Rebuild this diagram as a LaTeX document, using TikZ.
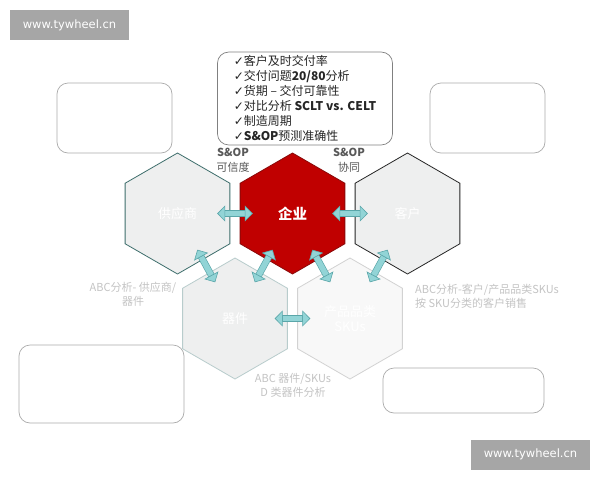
\documentclass[tikz,border=0pt]{standalone}
\usepackage{fontspec}
\setmainfont{Noto Sans CJK SC}
\newfontfamily\symfont{DejaVu Sans}
\usetikzlibrary{shapes.geometric,arrows.meta,calc}
\definecolor{qiyered}{HTML}{C00000}
\definecolor{qiyeline}{HTML}{8A0A0A}
\definecolor{hexgray}{HTML}{EEEFEF}
\definecolor{hexlight}{HTML}{F8F8F8}
\definecolor{tealline}{HTML}{3E6E6C}
\definecolor{softline}{HTML}{B8CCCC}
\definecolor{paleline}{HTML}{D2D2D2}
\definecolor{arrfill}{HTML}{92D4D6}
\definecolor{arredge}{HTML}{5AA6A9}
\definecolor{boxline}{HTML}{ABABAB}
\definecolor{notegray}{HTML}{C4C4C4}
\definecolor{wmgray}{HTML}{A6A6A6}
\begin{document}
\begin{tikzpicture}[x=1pt,y=-1pt,
  hexa/.style={regular polygon, regular polygon sides=6, shape border rotate=30,
    minimum size=121pt, inner sep=0pt, line width=0.8pt, text=white,
    font=\fontsize{13}{15}\selectfont, align=center},
  infobox/.style={draw=boxline, fill=white, rounded corners=11pt, line width=0.7pt},
  biarrow/.style={draw=arrfill, line width=5.5pt,
    {Triangle[length=8pt,width=16pt,line width=0.6pt,fill=arrfill,color=arredge]}-{Triangle[length=8pt,width=16pt,line width=0.6pt,fill=arrfill,color=arredge]},
    preaction={draw=arredge, line width=6.8pt, -, shorten <=7pt, shorten >=7pt}},
  note/.style={font=\fontsize{11}{14}\selectfont, text=notegray, inner sep=0pt},
  soplabel/.style={font=\fontsize{11}{15}\selectfont, text=black!65, align=center, inner sep=0pt},
  wmbox/.style={fill=wmgray, text=white, font=\symfont\fontsize{11.5}{13}\selectfont,
    minimum width=119pt, minimum height=30pt, inner sep=0pt}]
\useasboundingbox[fill=white] (0,0) rectangle (600,480);
% side boxes
\node[infobox, minimum width=115pt, minimum height=70pt] (tlbox) at (114.5,118) {};
\node[infobox, minimum width=115pt, minimum height=70pt] (trbox) at (487.5,118) {};
\node[infobox, minimum width=165pt, minimum height=78pt] (blbox) at (101.5,384) {};
\node[infobox, minimum width=161pt, minimum height=45pt] (brbox) at (463.5,390.5) {};
\node[infobox, draw=black!50, minimum width=175pt, minimum height=91pt, align=left,
  font=\fontsize{12}{15}\selectfont, text=black!85] (kpibox) at (305,98.5)
  {{\symfont ✓}客户及时交付率\\
   {\symfont ✓}交付问题\textbf{20/80}分析\\
   {\symfont ✓}货期 – 交付可靠性\\
   {\symfont ✓}对比分析 \textbf{SCLT vs. CELT}\\
   {\symfont ✓}制造周期\\
   {\symfont ✓}\textbf{S\&OP}预测准确性};
% hexagons
\node[hexa, draw=tealline, fill=hexgray] (gys) at (177.5,213.5) {供应商};
\node[hexa, draw=qiyeline, fill=qiyered, font=\fontsize{14.5}{16}\selectfont\bfseries] (qiye) at (292.5,213.5) {企业};
\node[hexa, draw=black!85, fill=hexgray] (kehu) at (407.5,213.5) {客户};
\node[hexa, draw=softline, fill=hexgray] (qijian) at (235,318.5) {器件};
\node[hexa, draw=paleline, fill=hexlight] (sku) at (350,318.5) {产品品类\\SKUs};
% arrows
\foreach \a/\b in {gys/qiye, qiye/kehu, gys/qijian, qiye/qijian, qiye/sku, kehu/sku, qijian/sku}
  \draw[biarrow] ($(\a.center)!0.345!(\b.center)$) -- ($(\a.center)!0.655!(\b.center)$);
% labels
\node[soplabel] (sopkxd) at (233,160) {\textbf{S\&OP}\\可信度};
\node[soplabel] (sopxt) at (349,160) {\textbf{S\&OP}\\协同};
\node[note, align=center] (abcgys) at (133,294) {ABC分析- 供应商/\\器件};
\node[note, align=left, anchor=west] (abckh) at (415,296.5) {ABC分析-客户/产品品类SKUs\\按 SKU分类的客户销售};
\node[note, align=center] (abcqj) at (293,385.5) {ABC 器件/SKUs\\D 类器件分析};
% watermarks
\node[wmbox] (wmtop) at (69.5,25) {www.tywheel.cn};
\node[wmbox] (wmbot) at (530.5,454.5) {www.tywheel.cn};
\end{tikzpicture}
\end{document}
